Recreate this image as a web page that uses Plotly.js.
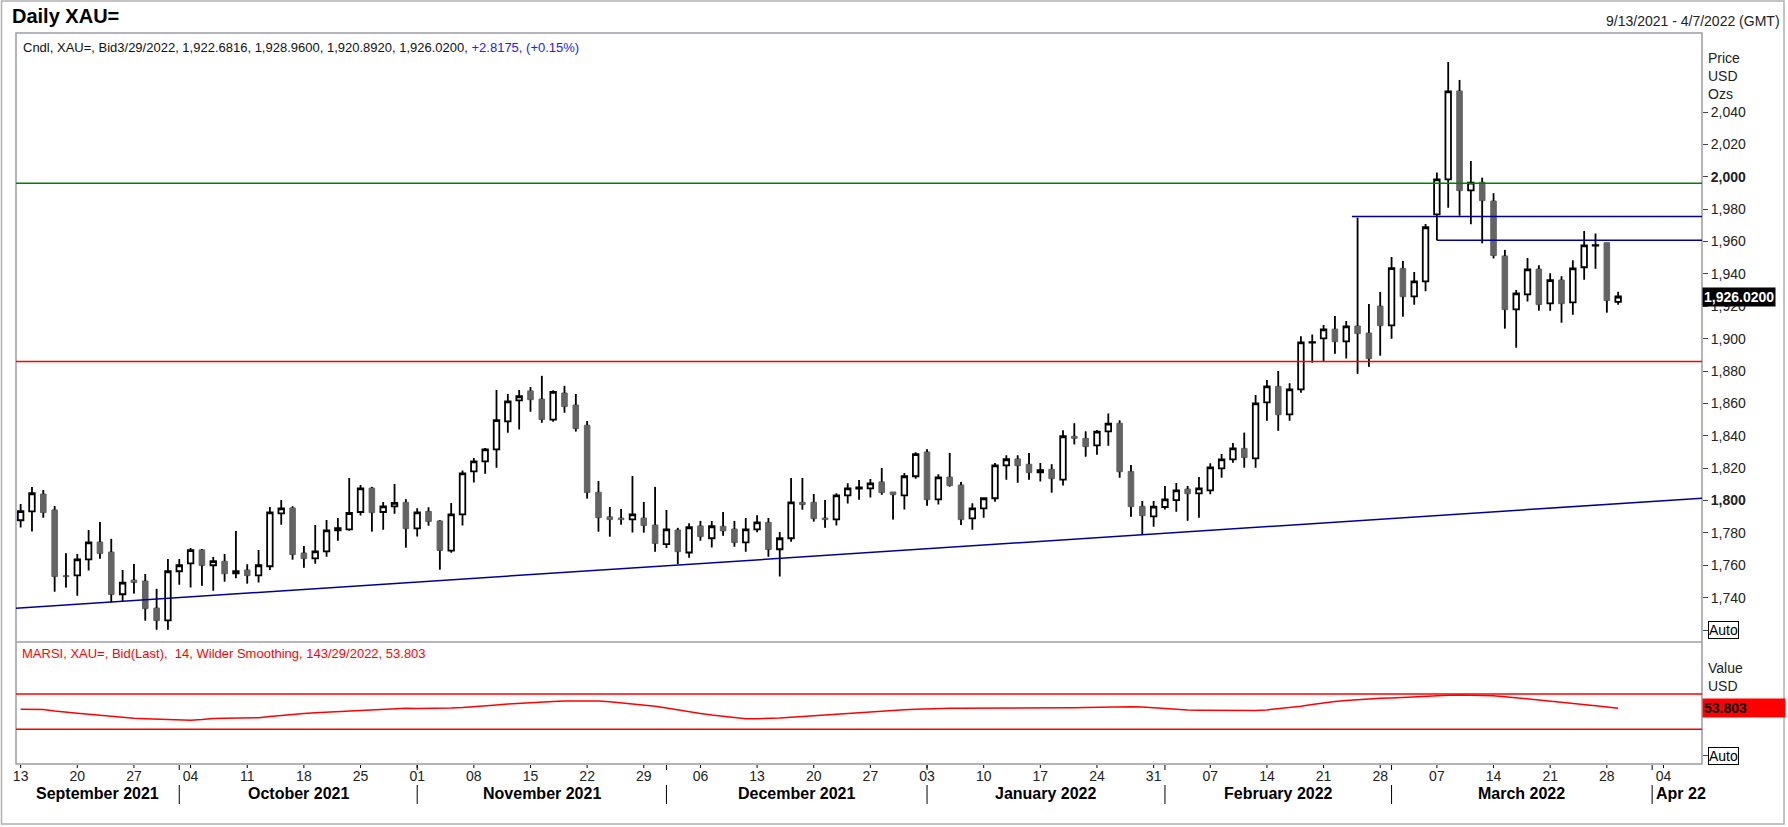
<!DOCTYPE html>
<html>
<head>
<meta charset="utf-8">
<script src="https://cdn.plot.ly/plotly-3.0.1.min.js"></script>
<style>
  html, body { margin: 0; padding: 0; background: #ffffff; }
  #chart { width: 1788px; height: 827px; }
</style>
</head>
<body>
<div id="chart"></div>
<script>
// Daily XAU= candles, 9/13/2021 - 3/29/2022 (one value per trading day)
const openP = [
  1787.8, 1793.3, 1804.0, 1794.2, 1753.6, 1753.8, 1763.7, 1774.4, 1768.2, 1742.1,
  1750.9, 1750.3, 1733.6, 1726.0, 1756.3, 1761.2, 1769.5, 1760.0, 1762.5, 1755.0,
  1757.1, 1753.8, 1759.4, 1792.1, 1795.4, 1767.6, 1764.3, 1768.6, 1781.6, 1782.2,
  1792.9, 1807.7, 1792.9, 1796.4, 1798.9, 1782.8, 1793.3, 1787.4, 1769.1, 1791.5,
  1818.0, 1824.2, 1831.6, 1848.9, 1861.9, 1867.7, 1862.7, 1850.0, 1866.4, 1859.0,
  1846.5, 1805.1, 1789.9, 1789.2, 1788.4, 1789.2, 1784.9, 1773.0, 1781.8, 1767.9,
  1784.3, 1776.7, 1784.1, 1782.4, 1774.2, 1782.2, 1786.5, 1769.9, 1776.7, 1798.9,
  1798.9, 1789.2, 1788.4, 1803.2, 1807.3, 1807.5, 1811.5, 1805.3, 1803.2, 1815.0,
  1830.0, 1800.7, 1814.5, 1809.6, 1789.0, 1795.2, 1801.4, 1821.7, 1825.7, 1822.4,
  1817.4, 1819.3, 1812.9, 1839.7, 1838.4, 1834.1, 1842.7, 1847.7, 1818.0, 1796.4,
  1790.2, 1796.0, 1800.3, 1807.1, 1804.4, 1806.3, 1819.9, 1825.4, 1832.2, 1826.0,
  1860.6, 1870.5, 1853.2, 1868.7, 1897.5, 1900.2, 1905.9, 1898.3, 1907.8, 1903.5,
  1920.1, 1908.2, 1943.4, 1926.1, 1935.4, 1976.8, 1998.4, 2053.0, 1991.6, 1996.6,
  1985.0, 1951.1, 1918.1, 1927.4, 1943.0, 1921.8, 1936.2, 1922.4, 1944.1, 1957.4,
  1959.3, 1922.6816
];
const highP = [
  1797.9, 1808.4, 1806.5, 1796.6, 1767.4, 1767.0, 1781.8, 1786.8, 1776.3, 1757.1,
  1760.8, 1754.6, 1745.4, 1763.9, 1763.9, 1770.7, 1770.1, 1765.1, 1767.0, 1781.2,
  1760.6, 1769.5, 1796.0, 1800.3, 1796.4, 1771.9, 1784.9, 1788.0, 1789.2, 1813.9,
  1809.6, 1808.4, 1799.1, 1810.2, 1800.8, 1795.2, 1795.8, 1787.8, 1798.5, 1818.5,
  1826.3, 1832.5, 1868.3, 1865.8, 1868.3, 1870.1, 1877.0, 1868.1, 1870.8, 1865.8,
  1849.1, 1812.1, 1796.0, 1794.8, 1815.2, 1799.1, 1808.4, 1794.2, 1783.1, 1785.9,
  1787.4, 1787.4, 1792.9, 1787.4, 1789.2, 1790.9, 1789.2, 1780.6, 1813.9, 1813.9,
  1804.0, 1800.3, 1804.5, 1810.6, 1812.7, 1813.3, 1820.1, 1805.3, 1817.0, 1829.8,
  1831.6, 1816.2, 1829.4, 1811.5, 1798.3, 1802.0, 1823.2, 1827.9, 1827.9, 1829.4,
  1823.2, 1822.4, 1843.4, 1847.7, 1842.7, 1843.6, 1853.8, 1849.5, 1821.9, 1799.7,
  1799.7, 1809.0, 1810.8, 1809.0, 1814.5, 1823.0, 1828.7, 1835.5, 1841.9, 1865.2,
  1874.4, 1880.0, 1872.4, 1901.4, 1902.6, 1908.4, 1914.0, 1910.9, 1974.7, 1921.4,
  1928.8, 1950.4, 1948.0, 1941.2, 1970.8, 2002.7, 2070.9, 2059.8, 2009.7, 1999.4,
  1989.8, 1954.8, 1930.1, 1949.8, 1945.3, 1940.4, 1938.5, 1948.4, 1966.5, 1964.9,
  1959.3, 1928.96
];
const lowP = [
  1783.3, 1780.8, 1789.4, 1743.7, 1746.2, 1741.2, 1756.7, 1764.1, 1737.1, 1738.0,
  1742.5, 1725.8, 1720.2, 1720.2, 1748.0, 1746.2, 1747.4, 1744.3, 1749.9, 1752.0,
  1748.7, 1749.3, 1757.1, 1785.1, 1763.5, 1758.5, 1761.0, 1765.3, 1775.2, 1781.4,
  1790.7, 1780.8, 1782.0, 1791.9, 1770.9, 1777.7, 1784.5, 1757.3, 1767.8, 1784.5,
  1811.1, 1816.6, 1820.3, 1841.9, 1843.8, 1854.9, 1848.1, 1848.7, 1854.3, 1842.6,
  1801.2, 1780.8, 1777.7, 1785.1, 1780.2, 1780.2, 1768.4, 1770.7, 1760.8, 1764.7,
  1775.2, 1770.9, 1778.3, 1771.5, 1768.4, 1780.4, 1765.3, 1753.0, 1774.6, 1794.4,
  1787.0, 1783.2, 1784.5, 1798.1, 1800.5, 1801.8, 1803.6, 1788.2, 1794.4, 1813.5,
  1796.8, 1797.5, 1808.6, 1784.9, 1782.0, 1789.4, 1799.3, 1812.9, 1811.0, 1812.9,
  1811.7, 1804.9, 1809.2, 1834.7, 1827.1, 1828.3, 1833.9, 1814.1, 1790.0, 1778.7,
  1783.8, 1794.5, 1793.1, 1787.5, 1789.4, 1803.8, 1814.1, 1823.4, 1820.3, 1820.3,
  1849.3, 1843.1, 1849.3, 1866.6, 1885.1, 1886.2, 1890.7, 1887.8, 1878.3, 1882.7,
  1889.5, 1900.0, 1913.6, 1921.0, 1929.2, 1960.7, 1980.9, 1976.0, 1970.6, 1958.9,
  1949.6, 1906.2, 1894.4, 1922.9, 1917.3, 1917.3, 1909.9, 1914.8, 1936.4, 1943.2,
  1916.1, 1920.892
];
const closeP = [
  1793.5, 1804.5, 1792.5, 1753.0, 1753.0, 1763.7, 1774.2, 1767.2, 1741.9, 1749.3,
  1749.3, 1733.2, 1725.8, 1756.3, 1760.0, 1769.3, 1759.8, 1762.5, 1754.8, 1756.3,
  1753.6, 1760.0, 1792.7, 1795.2, 1766.6, 1764.1, 1768.6, 1781.6, 1783.0, 1792.3,
  1807.5, 1792.5, 1796.4, 1798.5, 1782.6, 1792.7, 1787.0, 1769.1, 1791.5, 1816.8,
  1824.2, 1831.6, 1849.6, 1861.3, 1864.4, 1862.3, 1850.0, 1867.1, 1858.0, 1844.4,
  1804.9, 1789.4, 1788.2, 1788.2, 1791.5, 1784.5, 1773.4, 1782.2, 1768.4, 1783.5,
  1777.7, 1784.1, 1781.2, 1774.0, 1782.2, 1786.5, 1769.7, 1776.7, 1798.9, 1797.5,
  1788.8, 1788.2, 1803.2, 1807.5, 1808.1, 1810.6, 1804.9, 1803.6, 1815.0, 1828.7,
  1800.5, 1814.3, 1809.2, 1788.2, 1795.2, 1801.4, 1821.7, 1825.5, 1821.5, 1817.2,
  1818.7, 1813.5, 1839.7, 1838.4, 1833.3, 1842.5, 1847.5, 1817.8, 1796.2, 1790.6,
  1796.2, 1800.7, 1806.3, 1804.2, 1807.5, 1820.5, 1825.4, 1832.2, 1826.5, 1860.0,
  1870.5, 1853.0, 1868.7, 1897.7, 1897.9, 1905.7, 1898.1, 1907.6, 1903.1, 1887.6,
  1908.0, 1943.6, 1925.9, 1935.4, 1968.8, 1998.4, 2052.8, 1991.4, 1996.4, 1985.2,
  1951.3, 1917.9, 1928.0, 1942.8, 1921.0, 1936.2, 1921.6, 1943.4, 1957.6, 1957.8,
  1923.5, 1926.02
];
// MARSI (14, Wilder smoothing)
const marsi = [
  52.6, 52.6, 52.4, 50.8, 49.2, 48.2, 47.0, 45.8, 44.6, 43.5,
  42.6, 42.0, 41.4, 41.0, 40.5, 40.3, 41.0, 42.2, 42.5, 42.5,
  42.6, 43.2, 44.5, 45.8, 47.0, 48.0, 48.7, 49.4, 50.1, 50.8,
  51.5, 52.3, 53.1, 53.7, 53.8, 53.7, 53.6, 53.7, 54.0, 54.6,
  55.3, 56.2, 57.5, 58.6, 59.5, 60.3, 60.9, 61.6, 62.0, 62.2,
  62.2, 62.0, 61.2, 60.1, 58.9, 57.6, 56.2, 54.2, 52.0, 50.0,
  48.0, 46.3, 44.8, 43.3, 42.1, 42.0, 42.2, 42.8, 43.6, 44.5,
  45.4, 46.3, 47.5, 48.5, 49.3, 50.0, 50.7, 51.5, 52.2, 52.8,
  53.3, 53.7, 53.8, 53.8, 53.8, 53.8, 53.8, 53.8, 53.8, 53.8,
  53.8, 53.8, 54.0, 54.4, 54.7, 55.0, 55.2, 55.4, 55.5, 55.2,
  54.2, 53.2, 52.4, 51.8, 51.5, 51.5, 51.5, 51.3, 50.9, 51.2,
  52.0, 53.2, 54.6, 56.2, 58.2, 60.1, 61.4, 62.6, 63.6, 64.4,
  65.1, 65.6, 66.3, 67.0, 67.8, 68.4, 68.7, 68.9, 68.9, 68.6,
  68.1, 67.0, 65.8, 64.6, 63.3, 62.0, 60.7, 59.3, 58.0, 56.6,
  55.2, 53.803
];
// Horizontal levels drawn on the price pane
const levelValues = [1996.0, 1975.5, 1960.7, 1885.8];
const levelColors = ['#008000', '#000099', '#000099', '#ff0000'];
const levelStartDay = [null, '2022-02-24', '2022-03-07', null];
// Rising support line (value at left and right edge of the pane)
const trendValues = [1733.5, 1801.4];
const rsiBands = [70, 30];
const priceTicks = [1740, 1760, 1780, 1800, 1820, 1840, 1860, 1880, 1900, 1920, 1940, 1960, 1980, 2000, 2020, 2040];
const boldTicks = [1800, 2000];
const monthNames = ['September 2021', 'October 2021', 'November 2021', 'December 2021',
                    'January 2022', 'February 2022', 'March 2022', 'Apr 22'];

const FONT = 'Liberation Sans, Arial, sans-serif';

// trading calendar (weekdays) from 9/13/2021 to 4/7/2022
function fmt(d) {
  const p = n => String(n).padStart(2, '0');
  return d.getUTCFullYear() + '-' + p(d.getUTCMonth() + 1) + '-' + p(d.getUTCDate());
}
const calendar = [];
for (let t = Date.UTC(2021, 8, 13); t <= Date.UTC(2022, 3, 7); t += 86400000) {
  const d = new Date(t);
  if (d.getUTCDay() !== 0 && d.getUTCDay() !== 6) calendar.push(d);
}
const dayKeys = calendar.map(fmt);
const candleX = dayKeys.slice(0, closeP.length).map(s => s + ' 12:00');

// fractional trading-day index -> date string on the broken axis
function indexToDate(k) {
  const n = Math.round(k);
  const base = calendar[Math.max(0, n)].getTime() + 12 * 3600000 + (k - n) * 86400000;
  return new Date(base).toISOString().slice(0, 19).replace('T', ' ');
}
const idxStart = -0.41, idxEnd = 148.4;
const xRange = [indexToDate(idxStart), indexToDate(idxEnd)];

// Monday ticks
const tickVals = [], tickText = [];
calendar.forEach((d, i) => {
  if (d.getUTCDay() === 1) {
    tickVals.push(dayKeys[i] + ' 12:00');
    tickText.push(String(d.getUTCDate()).padStart(2, '0'));
  }
});

// first trading day of each month
const monthStarts = [];
calendar.forEach((d, i) => {
  if (i > 0 && d.getUTCMonth() !== calendar[i - 1].getUTCMonth()) monthStarts.push(i);
});

// pixel helpers for paper coordinates (plot area: x 16..1702, y 33..764)
const PL = 16, PR = 1702, PT = 33, PB = 764;
const px = X => (X - PL) / (PR - PL);
const py = Y => (PB - Y) / (PB - PT);
const split = py(642);

// black wicks for the falling candles
const wickX = [], wickY = [];
closeP.forEach((c, i) => {
  if (c < openP[i]) {
    wickX.push(candleX[i], candleX[i], null, candleX[i], candleX[i], null);
    wickY.push(highP[i], openP[i], null, c, lowP[i], null);
  }
});

const candles = {
  type: 'candlestick',
  x: candleX, open: openP, high: highP, low: lowP, close: closeP,
  xaxis: 'x', yaxis: 'y',
  increasing: {line: {color: '#000000', width: 1.8}, fillcolor: '#ffffff'},
  decreasing: {line: {color: '#646464', width: 1}, fillcolor: '#646464'},
  whiskerwidth: 0,
  hoverinfo: 'skip',
  showlegend: false
};
const wicks = {
  type: 'scatter', mode: 'lines', x: wickX, y: wickY,
  xaxis: 'x', yaxis: 'y',
  line: {color: '#000000', width: 1.8},
  hoverinfo: 'skip', showlegend: false
};
const rsiLine = {
  type: 'scatter', mode: 'lines', x: candleX, y: marsi,
  xaxis: 'x', yaxis: 'y2',
  line: {color: '#ff0000', width: 1.5},
  hoverinfo: 'skip', showlegend: false
};

const shapes = [];
// outer frame
shapes.push({type: 'rect', xref: 'paper', yref: 'paper', x0: px(1.5), x1: px(1784), y0: py(824), y1: py(1),
             line: {color: '#b0b0b0', width: 1.5}});
// pane borders
shapes.push({type: 'rect', xref: 'paper', yref: 'paper', x0: 0, x1: 1, y0: 0, y1: 1,
             line: {color: '#9c9ca8', width: 1.5}});
shapes.push({type: 'line', xref: 'paper', yref: 'paper', x0: 0, x1: 1, y0: split, y1: split,
             line: {color: '#9c9ca8', width: 1.5}});
// levels
levelValues.forEach((v, i) => {
  const s = levelStartDay[i];
  shapes.push({
    type: 'line', yref: 'y', y0: v, y1: v,
    xref: s ? 'x' : 'paper',
    x0: s ? indexToDate(dayKeys.indexOf(s) - (i === 1 ? 0.5 : 0)) : 0,
    x1: s ? xRange[1] : 1,
    line: {color: levelColors[i], width: 1.5}
  });
});
// trend line
shapes.push({type: 'line', xref: 'x', yref: 'y', x0: xRange[0], x1: xRange[1],
             y0: trendValues[0], y1: trendValues[1], line: {color: '#000099', width: 1.5}});
// RSI bands
rsiBands.forEach(v => shapes.push({type: 'line', xref: 'paper', yref: 'y2', x0: 0, x1: 1, y0: v, y1: v,
                                   line: {color: '#ff0000', width: 1.5}}));
// small Monday ticks under the lower pane
tickVals.forEach(xd => shapes.push({type: 'line', xref: 'x', yref: 'paper', x0: xd, x1: xd,
                                    y0: py(765), y1: py(768), line: {color: '#000000', width: 1}}));
// month separators under the axis
monthStarts.forEach(i => {
  const xd = dayKeys[i] + ' 12:00';
  shapes.push({type: 'line', xref: 'x', yref: 'paper', x0: xd, x1: xd, y0: py(765), y1: py(770),
               line: {color: '#000000', width: 1}});
  shapes.push({type: 'line', xref: 'x', yref: 'paper', x0: xd, x1: xd, y0: py(785), y1: py(804),
               line: {color: '#000000', width: 1}});
});

const annotations = [];
const note = (o) => annotations.push(Object.assign({showarrow: false, xanchor: 'left', yanchor: 'middle'}, o));

note({xref: 'paper', yref: 'paper', x: px(10), y: py(16), text: '<b>Daily XAU=</b>',
      font: {family: FONT, size: 20, color: '#000000'}});
note({xref: 'paper', yref: 'paper', x: px(1782), y: py(21), xanchor: 'right',
      text: '9/13/2021 - 4/7/2022 (GMT)', font: {family: FONT, size: 14, color: '#222222'}});
note({xref: 'paper', yref: 'paper', x: px(21), y: py(48),
      text: 'Cndl, XAU=, Bid3/29/2022, 1,922.6816, 1,928.9600, 1,920.8920, 1,926.0200, ' +
            '<span style="color:#2020ff">+2.8175, (+0.15%)</span>',
      font: {family: FONT, size: 13, color: '#111111'}});
['Price', 'USD', 'Ozs'].forEach((t, i) => note({xref: 'paper', yref: 'paper', x: px(1706), y: py(58 + i * 18),
      text: t, font: {family: FONT, size: 14, color: '#222222'}}));
note({xref: 'paper', yref: 'y', x: 1, y: closeP[closeP.length - 1], text: '<b>1,926.0200</b>',
      bgcolor: '#000000', borderpad: 1, font: {family: FONT, size: 14, color: '#ffffff'}});
note({xref: 'paper', yref: 'y', x: px(1708), y: 1720, text: 'Auto', bgcolor: '#ffffff',
      bordercolor: '#000000', borderwidth: 1, borderpad: 0, font: {family: FONT, size: 14, color: '#000000'}});

note({xref: 'paper', yref: 'paper', x: px(20), y: py(653),
      text: 'MARSI, XAU=, Bid(Last), \u00a014, Wilder Smoothing, 143/29/2022, 53.803',
      font: {family: FONT, size: 13, color: '#ff0000'}});
['Value', 'USD'].forEach((t, i) => note({xref: 'paper', yref: 'paper', x: px(1706), y: py(668 + i * 18),
      text: t, font: {family: FONT, size: 14, color: '#222222'}}));
note({xref: 'paper', yref: 'y2', x: 1, y: marsi[marsi.length - 1], text: '<b>53.803</b>',
      bgcolor: '#ff0000', borderpad: 1, width: 80, align: 'left',
      font: {family: FONT, size: 14, color: '#000000'}});
note({xref: 'paper', yref: 'y2', x: px(1708), y: 0, text: 'Auto', bgcolor: '#ffffff',
      bordercolor: '#000000', borderwidth: 1, borderpad: 0, font: {family: FONT, size: 14, color: '#000000'}});

// month names under the day numbers
const bounds = [idxStart].concat(monthStarts);
monthNames.forEach((m, i) => {
  if (i < monthNames.length - 1) {
    note({xref: 'x', yref: 'paper', x: indexToDate((bounds[i] + bounds[i + 1]) / 2), y: py(793),
          xanchor: 'center', text: '<b>' + m + '</b>', font: {family: FONT, size: 16, color: '#000000'}});
  } else {
    note({xref: 'x', yref: 'paper', x: indexToDate(bounds[i] + 0.2), y: py(793),
          text: '<b>' + m + '</b>', font: {family: FONT, size: 16, color: '#000000'}});
  }
});

const layout = {
  width: 1788, height: 827,
  margin: {l: PL, r: 1788 - PR, t: PT, b: 827 - PB},
  paper_bgcolor: '#ffffff', plot_bgcolor: '#ffffff',
  showlegend: false,
  boxgap: 0.3,
  xaxis: {
    type: 'date', range: xRange, anchor: 'y2',
    rangebreaks: [{bounds: ['sat', 'mon']}],
    rangeslider: {visible: false},
    tickmode: 'array', tickvals: tickVals, ticktext: tickText,
    ticks: '', ticklabelstandoff: 2,
    showgrid: false, zeroline: false, showline: false,
    tickfont: {family: FONT, size: 14, color: '#222222'},
    fixedrange: true
  },
  yaxis: {
    domain: [split, 1], range: [1712.6, 2088.8], side: 'right', anchor: 'x',
    tickmode: 'array', tickvals: [1720].concat(priceTicks),
    ticktext: [''].concat(priceTicks.map(v => {
      const s = v.toLocaleString('en-US');
      return boldTicks.includes(v) ? '<b>' + s + '</b>' : s;
    })),
    ticks: 'outside', ticklen: 5, tickcolor: '#444444', tickwidth: 1,
    showgrid: false, zeroline: false, showline: false,
    tickfont: {family: FONT, size: 14, color: '#222222'},
    fixedrange: true
  },
  yaxis2: {
    domain: [0, split], range: [-9.3, 128.9], side: 'right', anchor: 'x',
    tickmode: 'array', tickvals: [0], ticktext: [''],
    ticks: 'outside', ticklen: 5, tickcolor: '#444444', tickwidth: 1,
    showgrid: false, zeroline: false, showline: false,
    fixedrange: true
  },
  shapes: shapes,
  annotations: annotations
};

Plotly.newPlot('chart', [candles, wicks, rsiLine], layout, {displayModeBar: false, staticPlot: true});
</script>
</body>
</html>
